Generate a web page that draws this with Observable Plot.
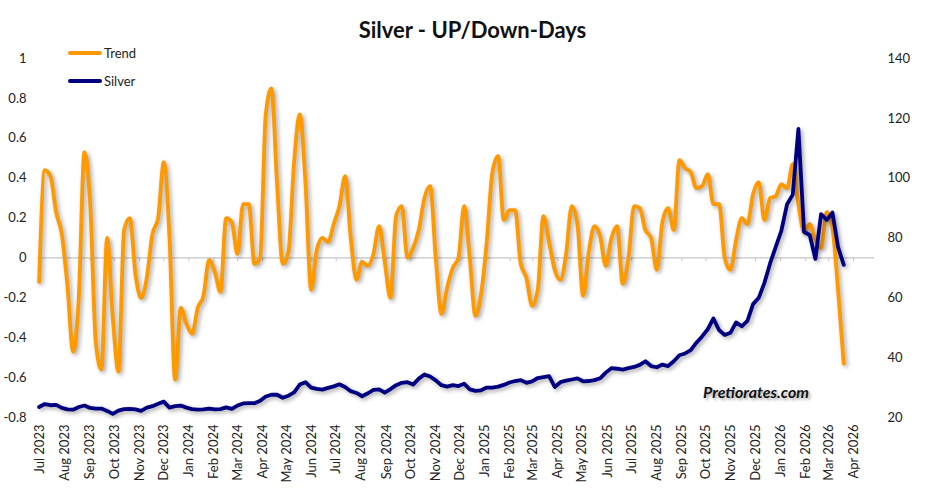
<!DOCTYPE html>
<html>
<head>
<meta charset="utf-8">
<script src="https://cdn.jsdelivr.net/npm/d3@7"></script>
<script src="https://cdn.jsdelivr.net/npm/@observablehq/plot@0.6"></script>
<style>
  body { margin: 0; background: #fff; font-family: Lato, "DejaVu Sans", sans-serif; }
  #wrap { position: relative; width: 945px; height: 495px; overflow: hidden; }
  #title { height: 45px; box-sizing: border-box; padding-top: 15px; line-height: 30px; text-align: center;
           font-weight: bold; font-size: 22px; color: #111; }
  .leg { position: absolute; left: 68px; font-size: 13px; color: #222; display: flex; align-items: center; }
  .leg span.sw { display: inline-block; width: 34px; height: 4px; border-radius: 2px; margin-right: 2px; }
  #mark { position: absolute; left: 703px; top: 382px; font-size: 16px; font-weight: bold; font-style: italic;
          color: #111; text-shadow: 2px 2px 3px rgba(0,0,0,0.35); }
</style>
</head>
<body>
<div id="wrap">
  <div id="title">Silver - UP/Down-Days</div>
  <div id="chart"></div>
  <div class="leg" style="top:45px"><span class="sw" style="background:#FF9900"></span>Trend</div>
  <div class="leg" style="top:73px"><span class="sw" style="background:#000080"></span>Silver</div>
  <div id="mark">Pretiorates.com</div>
</div>
<script>
// weekly observations starting at this date
const startDate = "2023-06-30";

const trend = [
  -0.12, 0.44, 0.41, 0.23, 0.12, -0.14, -0.47, -0.20, 0.53, 0.28,
  -0.42, -0.56, 0.10, -0.30, -0.57, 0.14, 0.20, -0.08, -0.20, -0.10,
  0.12, 0.20, 0.48, 0.11, -0.61, -0.25, -0.33, -0.38, -0.25, -0.19,
  -0.01, -0.07, -0.17, 0.20, 0.18, 0.02, 0.27, 0.27, -0.03, 0.00,
  0.72, 0.85, 0.37, -0.03, 0.03, 0.48, 0.72, 0.38, -0.16, 0.04,
  0.10, 0.08, 0.17, 0.26, 0.41, 0.10, -0.11, -0.02, -0.04, 0.02,
  0.16, -0.02, -0.20, 0.21, 0.26, 0.00, 0.05, 0.14, 0.30, 0.36,
  0.00, -0.28, -0.15, -0.05, 0.00, 0.26, 0.00, -0.29, -0.18, 0.08,
  0.43, 0.51, 0.19, 0.24, 0.24, -0.03, -0.10, -0.24, -0.16, 0.21,
  0.08, -0.06, -0.11, 0.02, 0.26, 0.17, -0.19, 0.03, 0.16, 0.11,
  -0.04, 0.10, 0.16, -0.13, 0.00, 0.26, 0.25, 0.14, 0.10, -0.06,
  0.18, 0.25, 0.14, 0.49, 0.45, 0.43, 0.35, 0.36, 0.42, 0.27,
  0.27, 0.00, -0.06, 0.09, 0.20, 0.17, 0.32, 0.38, 0.19, 0.30,
  0.31, 0.37, 0.35, 0.47, 0.27, 0.13, 0.17, 0.09, 0.05, 0.23,
  0.15, -0.16, -0.53
];

const silver = [
  23.5, 24.5, 24.1, 24.2, 23.2, 22.7, 22.6, 23.5, 24.0, 23.2,
  23.0, 23.0, 22.2, 21.2, 22.3, 22.8, 22.9, 22.7, 22.2, 23.3,
  23.8, 24.6, 25.3, 23.3, 23.8, 24.0, 23.3, 22.8, 22.6, 22.7,
  23.0, 22.7, 22.8, 23.4, 22.9, 24.0, 24.7, 24.8, 24.8, 25.6,
  27.0, 27.6, 27.6, 26.6, 27.3, 28.4, 31.0, 31.8, 30.0, 29.6,
  29.3, 29.9, 30.4, 31.1, 30.2, 28.8, 28.2, 27.1, 28.1, 29.2,
  29.4, 28.3, 29.5, 30.8, 31.6, 31.8, 31.0, 33.0, 34.4, 33.7,
  32.4, 30.8, 30.3, 30.8, 30.5, 31.3, 29.4, 28.9, 29.1, 30.0,
  30.0, 30.3, 30.9, 31.7, 32.2, 32.5, 31.6, 32.1, 33.2, 33.5,
  33.8, 30.2, 31.8, 32.3, 32.7, 33.1, 32.1, 32.2, 32.5, 33.1,
  35.0, 36.5, 36.3, 36.0, 36.5, 36.9, 37.6, 38.8, 37.2, 36.8,
  37.7, 37.2, 38.8, 40.8, 41.4, 42.5, 45.0, 47.1, 49.5, 53.1,
  49.2, 47.6, 48.3, 51.8, 50.5, 52.3, 57.9, 60.0, 65.0, 71.5,
  77.0, 82.5, 91.3, 94.5, 116.5, 82.0, 81.0, 73.0, 88.0, 86.0,
  88.5, 77.0, 71.0
];

const leftTicks = [1, 0.8, 0.6, 0.4, 0.2, 0, -0.2, -0.4, -0.6, -0.8];
const rightTicks = [20, 40, 60, 80, 100, 120, 140];
const monthTicks = d3.utcMonth.range(new Date("2023-07-01"), new Date("2026-04-02"));

const t0 = new Date(startDate);
const data = trend.map((v, i) => ({
  date: d3.utcDay.offset(t0, 7 * i),
  trend: v,
  silver: silver[i]
}));

// silver (right axis 20..140) mapped onto the left axis range (-0.8..1)
const ySil = d3.scaleLinear([20, 140], [-0.8, 1]);

const chart = Plot.plot({
  width: 945,
  height: 450,
  marginTop: 13,
  marginBottom: 78,
  marginLeft: 37,
  marginRight: 71,
  style: { fontFamily: "Lato, sans-serif", fontSize: "13px", color: "#222", background: "#fff" },
  x: { type: "utc", domain: [new Date("2023-06-28"), new Date("2026-04-27")] },
  y: { domain: [-0.8, 1] },
  marks: [
    Plot.ruleY([0], { stroke: "#c6c6c6", strokeWidth: 1.2 }),
    Plot.ruleX(monthTicks, { x: d => d, y1: 0, y2: -0.018, stroke: "#c6c6c6" }),
    Plot.line(data, { x: "date", y: "trend", stroke: "#FF9900", strokeWidth: 3.8, curve: "monotone-x" }),
    Plot.line(data, { x: "date", y: d => ySil(d.silver), stroke: "#000080", strokeWidth: 3.8 }),
    Plot.axisY(leftTicks, { anchor: "left", tickSize: 0, tickPadding: 11, tickFormat: d => String(d), label: null }),
    Plot.axisY(rightTicks.map(v => ySil(v)), { anchor: "right", tickSize: 0, tickPadding: 13,
      tickFormat: d => String(Math.round(ySil.invert(d))), label: null }),
    Plot.axisX(monthTicks, { anchor: "bottom", tickRotate: -90, tickSize: 0, tickPadding: 7,
      tickFormat: d3.utcFormat("%b %Y"), label: null })
  ]
});

d3.select(chart).selectAll('g[aria-label="line"]').style("filter", "drop-shadow(2px 2px 2px rgba(0,0,0,0.35))");
document.getElementById("chart").append(chart);
</script>
</body>
</html>
